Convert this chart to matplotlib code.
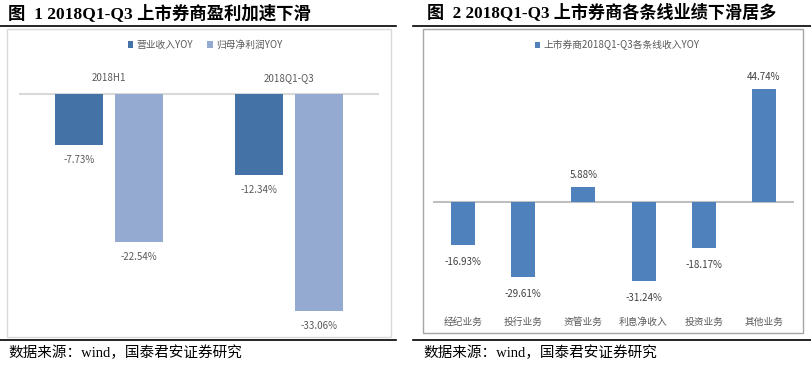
import matplotlib
matplotlib.use("Agg")
import matplotlib.pyplot as plt
from matplotlib.patches import Rectangle
from matplotlib.lines import Line2D
from matplotlib.transforms import blended_transform_factory
import numpy as np

plt.rcParams['font.family'] = ['Noto Sans CJK SC', 'DejaVu Sans']

# data
groups_left = ["2018H1", "2018Q1-Q3"]
revenue_yoy = [-7.73, -12.34]
profit_yoy = [-22.54, -33.06]
series_left = ["营业收入YOY", "归母净利润YOY"]

cats_right = ["经纪业务", "投行业务", "资管业务", "利息净收入", "投资业务", "其他业务"]
line_yoy = [-16.93, -29.61, 5.88, -31.24, -18.17, 44.74]
series_right = "上市券商2018Q1-Q3各条线收入YOY"

title_left = "图  1 2018Q1-Q3 上市券商盈利加速下滑"
title_right = "图  2 2018Q1-Q3 上市券商各条线业绩下滑居多"
source = "数据来源：wind，国泰君安证券研究"

W, H = 811, 369
fig = plt.figure(figsize=(W / 100, H / 100), dpi=100)


def fx(px):
    return px / W


def fy(py):
    return 1 - py / H


def axes_px(x0, y0, x1, y1):
    return fig.add_axes([fx(x0), fy(y1), fx(x1) - fx(x0), (y1 - y0) / H])


title_font = ['Liberation Serif', 'Noto Sans CJK SC']
label_color = "#595959"
dark_blue = "#4472A6"
light_blue = "#95AAD0"
mid_blue = "#4F81BD"

# frames / rules
fig.add_artist(Line2D([fx(0), fx(396)], [fy(26), fy(26)], color="black", lw=1.2))
fig.add_artist(Line2D([fx(413), fx(811)], [fy(26), fy(26)], color="black", lw=1.2))
fig.add_artist(Line2D([fx(0), fx(396)], [fy(340), fy(340)], color="black", lw=1.2))
fig.add_artist(Line2D([fx(413), fx(811)], [fy(340), fy(340)], color="black", lw=1.2))
fig.add_artist(Rectangle((fx(7), fy(337)), fx(391) - fx(7), (337 - 29) / H,
                         fill=False, edgecolor="#D9D9D9", lw=1))
fig.add_artist(Rectangle((fx(423), fy(333)), fx(803) - fx(423), (333 - 29) / H,
                         fill=False, edgecolor="#A6A6A6", lw=1))

fig.text(fx(8), fy(13), title_left, family=title_font, fontsize=12.5,
         fontweight="bold", va="center", ha="left")
fig.text(fx(427), fy(13), title_right, family=title_font, fontsize=12.3,
         fontweight="bold", va="center", ha="left")
fig.text(fx(8), fy(353), source, family=title_font, fontsize=10.5, va="center", ha="left")
fig.text(fx(423), fy(353), source, family=title_font, fontsize=10.5, va="center", ha="left")

# left chart
zero_l, scale_l = 94, 6.55
top_l, bot_l = 30, 330
axl = axes_px(19, top_l, 379, bot_l)
axl.set_xlim(-0.5, 1.5)
axl.set_ylim(-(bot_l - zero_l) / scale_l, (zero_l - top_l) / scale_l)
x = np.arange(len(groups_left))
w = 0.267
b1 = axl.bar(x - 0.167, revenue_yoy, w, color=dark_blue, label=series_left[0])
b2 = axl.bar(x + 0.167, profit_yoy, w, color=light_blue, label=series_left[1])
axl.axhline(0, color="#D9D9D9", lw=1.5, zorder=0)
for bars, vals in [(b1, revenue_yoy), (b2, profit_yoy)]:
    for r, v in zip(bars, vals):
        axl.annotate(f"{v:.2f}%", (r.get_x() + r.get_width() / 2, v),
                     xytext=(0, -15 * 0.72), textcoords="offset points",
                     ha="center", va="center", fontsize=7, color=label_color)
tr = blended_transform_factory(axl.transData, fig.transFigure)
for i, g in enumerate(groups_left):
    axl.text(i, fy(78), g, transform=tr, ha="center", va="center",
             fontsize=7, color=label_color)
axl.axis("off")
fig.legend(handles=[b1, b2], loc="center", bbox_to_anchor=(fx(205), fy(45)),
           ncol=2, frameon=False, fontsize=7, handlelength=0.6, handleheight=0.6,
           handletextpad=0.3, columnspacing=1.5, labelcolor=label_color)

# right chart
zero_r, scale_r = 202, 2.535
top_r, bot_r = 30, 330
axr = axes_px(433, top_r, 794, bot_r)
axr.set_xlim(-0.5, 5.5)
axr.set_ylim(-(bot_r - zero_r) / scale_r, (zero_r - top_r) / scale_r)
xr = np.arange(len(cats_right))
br = axr.bar(xr, line_yoy, 0.4, color=mid_blue, label=series_right)
axr.axhline(0, color="#BFBFBF", lw=1.5, zorder=0)
for r, v in zip(br, line_yoy):
    off = -17 if v < 0 else 12
    axr.annotate(f"{v:.2f}%", (r.get_x() + r.get_width() / 2, v),
                 xytext=(0, off * 0.72), textcoords="offset points",
                 ha="center", va="center", fontsize=7, color="#404040")
trr = blended_transform_factory(axr.transData, fig.transFigure)
for i, c in enumerate(cats_right):
    axr.text(i, fy(322), c, transform=trr, ha="center", va="center",
             fontsize=7, color=label_color)
axr.axis("off")
fig.legend(handles=[br], loc="center", bbox_to_anchor=(fx(617), fy(45)),
           frameon=False, fontsize=7, handlelength=0.6, handleheight=0.6,
           handletextpad=0.3, labelcolor=label_color)

fig.savefig("out.png", dpi=100)
